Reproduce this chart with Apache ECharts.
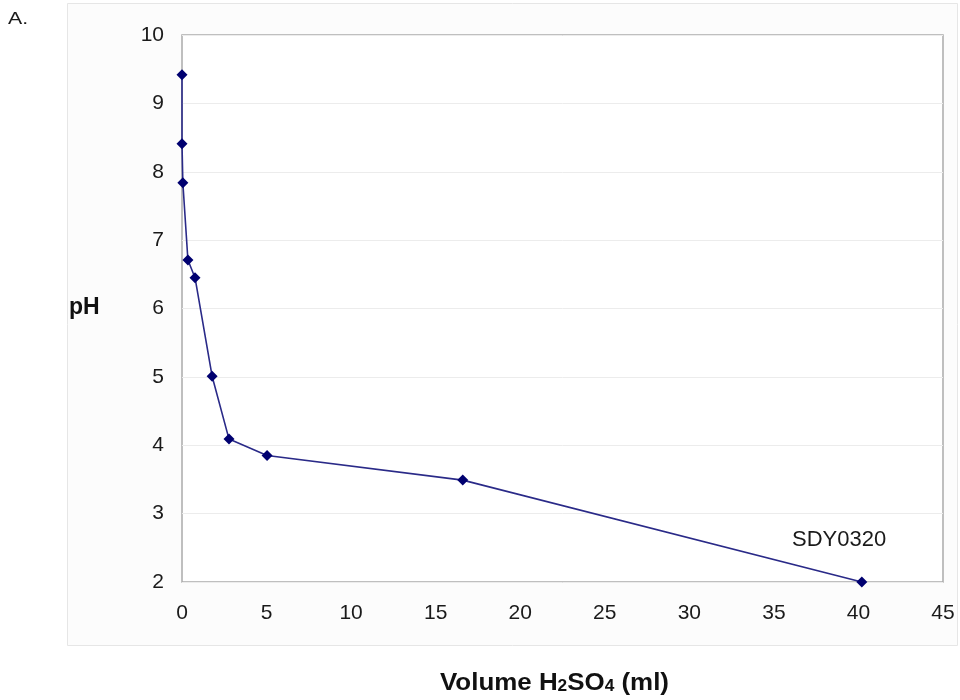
<!DOCTYPE html>
<html>
<head>
<meta charset="utf-8">
<script src="https://cdn.jsdelivr.net/npm/echarts@6/dist/echarts.min.js"></script>
<style>
  html, body { margin: 0; padding: 0; background: #fff; }
  #main { width: 960px; height: 700px; }
</style>
</head>
<body>
<div id="main"></div>
<script>
// volume of acid added (ml) and measured pH
var volume = [0, 0, 0.05, 0.35, 0.77, 1.78, 2.78, 5.03, 16.6, 40.2];
var ph = [9.42, 8.41, 7.84, 6.71, 6.45, 5.01, 4.09, 3.85, 3.49, 2.0];
var xTicks = [0, 5, 10, 15, 20, 25, 30, 35, 40, 45];
var yTicks = [2, 3, 4, 5, 6, 7, 8, 9, 10];

var points = volume.map(function (v, i) { return [v, ph[i]]; });
var font = 'Liberation Sans, Arial, sans-serif';

var chart = echarts.init(document.getElementById('main'));
chart.setOption({
    animation: false,
    backgroundColor: '#fff',
    textStyle: { fontFamily: font },
    graphic: [
        {
            type: 'rect', z: -10, silent: true,
            shape: { x: 67.5, y: 3.5, width: 890, height: 642 },
            style: { fill: '#fcfcfc', stroke: '#e6e6e6', lineWidth: 1 }
        },
        {
            type: 'text', x: 8, y: 11, scaleX: 1.25,
            style: { text: 'A.', font: '17px ' + font, fill: '#1a1a1a' }
        },
        {
            type: 'text', left: 792, top: 529,
            style: { text: 'SDY0320', font: '22px ' + font, fill: '#1a1a1a' }
        },
        {
            type: 'text', left: 69, top: 296,
            style: { text: 'pH', font: 'bold 23px ' + font, fill: '#111' }
        },
        {
            type: 'text', x: 440, y: 665, scaleX: 1.08,
            style: {
                text: '{t|Volume H}{s|2}{t|SO}{s|4}{t| (ml)}',
                rich: {
                    t: { font: 'bold 24px ' + font, fill: '#111', verticalAlign: 'bottom', lineHeight: 30 },
                    s: { font: 'bold 16px ' + font, fill: '#111', verticalAlign: 'bottom', lineHeight: 30, padding: [12, 0, 0, 0] }
                }
            }
        }
    ],
    grid: {
        left: 182, right: 17, top: 35, bottom: 118,
        show: true, borderColor: '#ababab', borderWidth: 1.5, backgroundColor: '#fff'
    },
    xAxis: {
        type: 'value', min: xTicks[0], max: xTicks[xTicks.length - 1], interval: 5,
        axisLine: { show: false },
        axisTick: { show: false },
        splitLine: { show: false },
        axisLabel: { color: '#1a1a1a', fontSize: 21, margin: 21 }
    },
    yAxis: {
        type: 'value', min: yTicks[0], max: yTicks[yTicks.length - 1], interval: 1,
        axisLine: { show: false },
        axisTick: { show: false },
        splitLine: { show: true, lineStyle: { color: '#ececec', width: 1 } },
        axisLabel: { color: '#1a1a1a', fontSize: 21, margin: 18 }
    },
    series: [{
        type: 'line',
        data: points,
        symbol: 'diamond',
        symbolSize: 11,
        itemStyle: { color: '#000070' },
        lineStyle: { color: '#2a2a88', width: 1.6 }
    }]
});
</script>
</body>
</html>
